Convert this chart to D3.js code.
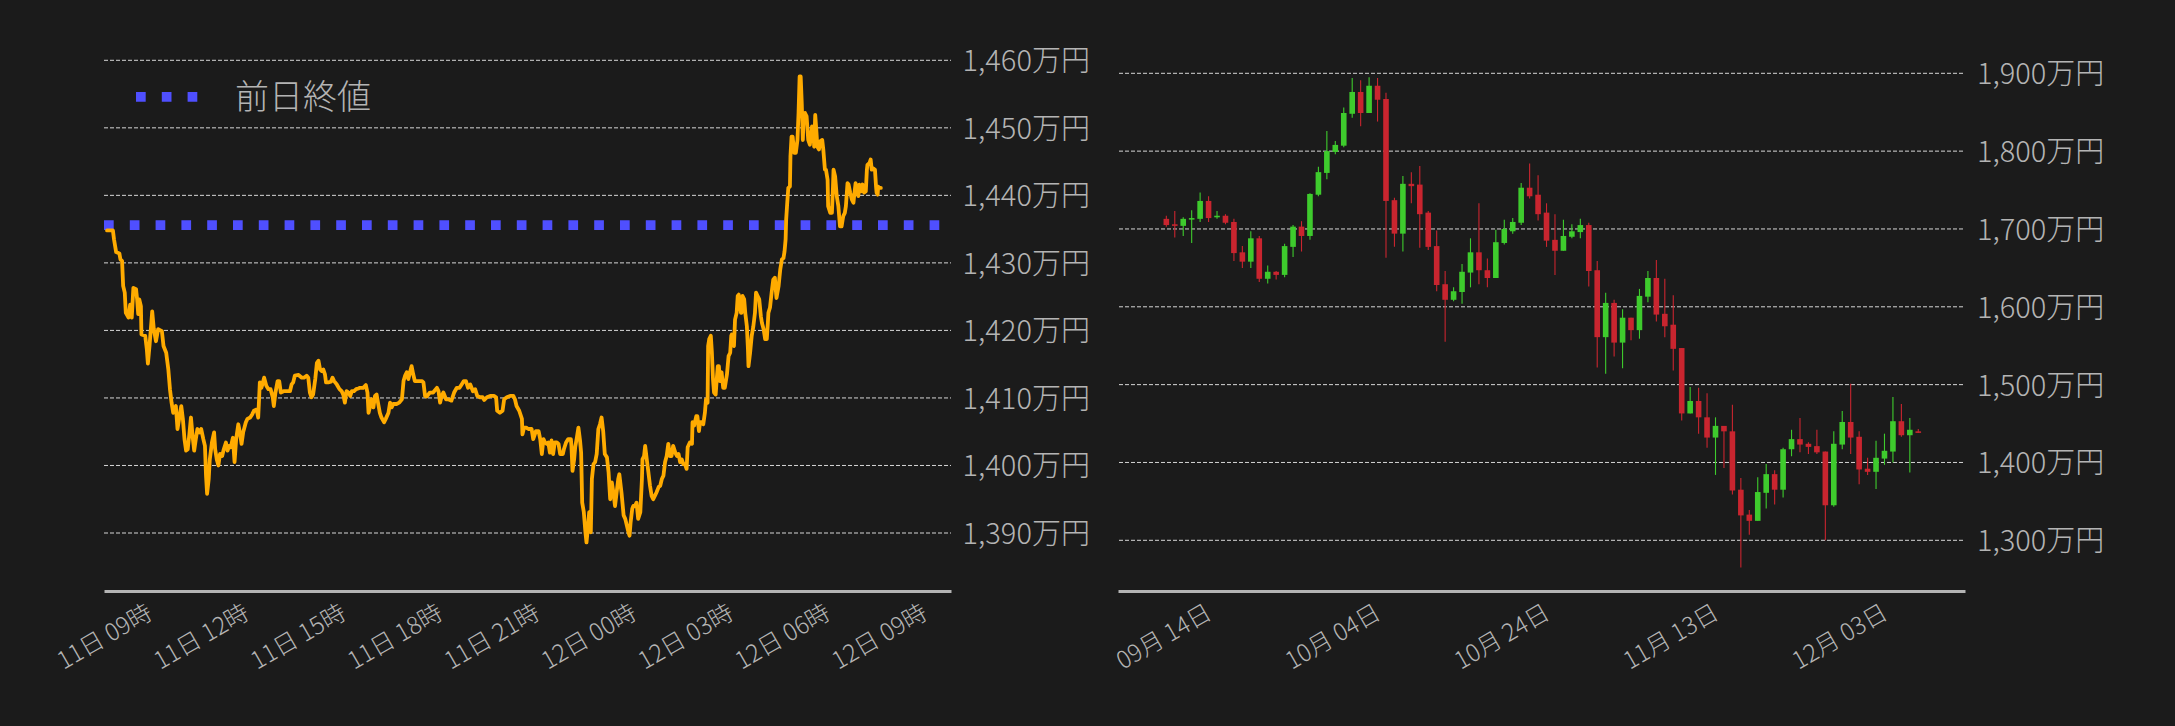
<!DOCTYPE html>
<html><head><meta charset="utf-8">
<script src="https://cdn.jsdelivr.net/npm/d3@7"></script>
<style>
html,body{margin:0;padding:0;background:#1b1b1b;}
svg{display:block;}
text{font-family:"Noto Sans CJK JP","Noto Sans",sans-serif;font-weight:300;}
</style>
</head><body>
<svg id="chart" width="2175" height="726"></svg>
<script>
// ---------- data: intraday (minutes since 2025-12-11 09:00, price in 万円) ----------
const prevClose = 1435.6;
const legendLabel = "前日終値";
const intraday = [
[0,1434.8],[11,1434.8],[13,1433.5],[17,1431.6],[23,1431.4],[25,1430.5],[28,1430.3],[30,1426.6],[33,1425.6],[35,1422.6],
[40,1421.9],[43,1423.8],[46,1421.9],[49,1426.3],[54,1426.1],[56,1424.6],[58,1422.4],[60,1424.6],[63,1423.6],[64,1419.4],
[71,1419.2],[74,1417.2],[76,1415.1],[79,1417.7],[81,1419.7],[84,1422.8],[87,1420.2],[91,1418.4],[95,1420.2],[102,1419.9],
[105,1417.7],[110,1416.7],[114,1414.2],[117,1411.3],[120,1409.3],[123,1407.8],[128,1408.8],[131,1405.4],[134,1406.9],[138,1408.8],
[141,1406.9],[144,1403.9],[147,1402.2],[150,1402.4],[153,1404.6],[156,1407.1],[159,1404.4],[162,1402.2],[165,1403.9],[168,1405.4],
[172,1404.9],[175,1405.4],[179,1403.9],[182,1402.9],[184,1398.5],[186,1395.8],[189,1398.0],[191,1400.9],[195,1403.4],[199,1404.9],
[201,1402.4],[204,1400.9],[207,1400.0],[210,1401.7],[214,1401.4],[217,1402.4],[221,1403.4],[224,1402.2],[227,1402.9],[230,1402.7],
[234,1404.1],[237,1400.5],[240,1403.9],[244,1406.1],[247,1404.9],[250,1403.2],[253,1404.9],[258,1406.4],[261,1406.9],[266,1407.1],
[270,1407.6],[273,1408.1],[278,1408.3],[281,1407.1],[284,1412.3],[287,1411.5],[292,1413.0],[296,1411.8],[300,1411.3],[304,1411.3],
[308,1410.1],[310,1408.8],[313,1410.8],[317,1412.5],[320,1412.5],[323,1410.8],[328,1411.0],[334,1411.0],[340,1411.0],[343,1412.0],
[346,1412.3],[349,1413.3],[356,1413.4],[362,1413.0],[366,1413.0],[371,1413.3],[374,1413.0],[377,1410.8],[380,1410.1],[383,1410.5],
[387,1412.8],[390,1415.2],[393,1415.5],[396,1414.2],[399,1414.0],[402,1414.2],[405,1413.5],[407,1412.3],[411,1412.3],[416,1412.4],
[419,1413.0],[422,1412.5],[427,1412.0],[432,1411.3],[436,1411.0],[439,1410.5],[442,1409.3],[445,1411.0],[449,1410.8],[452,1410.3],
[455,1411.0],[459,1411.0],[463,1411.3],[467,1411.4],
[470,1411.5],[476,1411.5],[481,1411.9],[484,1410.8],[486,1407.8],[489,1408.8],[492,1409.8],[495,1408.6],[498,1410.3],[501,1410.5],
[504,1409.1],[507,1407.8],[510,1407.1],[515,1406.4],[518,1406.9],[523,1407.8],[526,1409.3],[529,1408.6],[532,1409.1],[538,1409.1],
[543,1409.3],[548,1409.8],[551,1412.5],[554,1413.3],[557,1413.8],[560,1412.8],[563,1413.8],[566,1414.7],[569,1413.5],[572,1412.5],
[579,1412.5],[585,1412.5],[588,1412.3],[591,1410.3],[594,1410.2],[600,1410.8],[606,1410.8],[613,1411.5],[616,1411.0],[619,1409.3],
[622,1410.3],[625,1410.8],[630,1409.8],[634,1409.8],[640,1409.6],[645,1410.8],[650,1411.5],[655,1411.5],[659,1412.0],[663,1412.5],
[667,1412.5],[671,1411.5],[675,1412.0],[680,1411.0],[684,1411.3],[688,1410.3],[693,1410.1],[698,1410.1],[701,1409.7],[706,1410.1],
[712,1410.3],[719,1410.3],[723,1410.1],[725,1408.1],[730,1407.8],[735,1408.1],[738,1409.8],[743,1410.1],[749,1410.3],[755,1410.3],
[758,1409.8],[761,1408.8],[766,1408.1],[771,1406.9],[772,1404.6],[775,1405.6],[779,1405.6],[783,1405.4],[789,1405.4],[792,1403.9],
[797,1405.1],[802,1405.1],[805,1403.9],[808,1401.7],[811,1403.9],[814,1403.4],[817,1403.2],[820,1403.4],[823,1401.9],[826,1403.7],
[829,1401.7],[832,1403.4],[836,1403.4],[839,1403.2],[842,1401.7],[847,1401.7],[849,1402.4],[853,1403.4],[857,1403.9],[862,1403.9],
[863,1402.9],[865,1399.2],[868,1400.9],[870,1402.7],[873,1404.1],[876,1405.6],[879,1403.7],[881,1401.9],[883,1394.5],[886,1393.1],
[889,1390.1],[891,1388.6],[894,1391.1],[896,1393.1],[899,1390.1],[901,1398.0],[904,1400.2],[907,1400.5],[910,1401.7],[913,1405.4],
[916,1406.1],[919,1407.1],[922,1405.1],[925,1401.7],[929,1401.2],[932,1399.0],[935,1395.0],[938,1397.5],[941,1396.0],[944,1394.0],
[947,1396.0],[950,1398.0],[952,1398.7],
[956,1396.0],[960,1392.6],[963,1392.1],[966,1391.1],[969,1390.1],[971,1389.6],[973,1391.6],[976,1393.6],[978,1394.0],[981,1394.0],
[984,1394.5],[987,1392.1],[991,1393.1],[994,1398.0],[995,1400.9],[998,1401.4],[1000,1402.9],[1003,1400.9],[1006,1399.0],[1009,1397.0],
[1012,1395.5],[1015,1395.0],[1018,1395.5],[1021,1396.0],[1025,1396.8],[1028,1397.0],[1031,1398.0],[1034,1398.5],[1037,1400.5],[1040,1401.4],
[1043,1403.2],[1046,1401.4],[1049,1401.4],[1052,1402.9],[1056,1401.9],[1059,1401.4],[1062,1401.7],[1065,1400.5],[1068,1400.9],[1071,1400.2],
[1074,1400.2],[1077,1399.5],[1079,1402.7],[1083,1403.4],[1087,1403.2],[1088,1406.4],[1091,1405.9],[1095,1407.3],[1097,1407.3],[1100,1405.1],
[1102,1406.4],[1105,1406.4],[1108,1406.1],[1111,1407.8],[1113,1409.8],[1116,1409.3],[1117,1417.7],[1119,1418.7],[1122,1419.2],[1124,1416.7],
[1126,1412.8],[1128,1410.8],[1131,1410.5],[1133,1412.8],[1135,1414.7],[1137,1414.7],[1139,1412.5],[1142,1413.8],[1145,1411.5],[1148,1411.5],
[1152,1413.5],[1155,1416.2],[1158,1416.7],[1160,1419.2],[1161,1419.4],[1163,1417.9],[1165,1417.7],[1167,1421.6],[1170,1422.6],[1172,1425.1],
[1174,1425.3],[1178,1422.6],[1179,1422.6],[1181,1425.1],[1184,1424.6],[1186,1422.6],[1189,1420.6],[1191,1417.2],[1192,1414.7],[1195,1416.7],
[1198,1419.2],[1201,1420.6],[1204,1422.6],[1206,1425.6],[1209,1425.1],[1212,1424.6],[1215,1422.1],[1217,1421.1],[1220,1420.2],[1223,1418.7],
[1226,1418.7],[1228,1421.1],[1229,1422.6],[1232,1423.4],[1235,1425.6],[1238,1427.5],[1241,1427.8],[1244,1424.8],[1248,1426.6],[1251,1429.0],
[1254,1430.5],[1257,1430.7],[1259,1431.7],[1261,1433.5],[1262,1436.4],[1264,1438.9],[1266,1441.1],[1269,1441.3],[1270,1445.8],[1272,1448.7],
[1274,1448.7],[1277,1446.3],[1280,1446.3],[1283,1448.2],[1285,1452.2],[1287,1457.6],[1289,1457.6],[1291,1453.6],[1293,1448.2],[1294,1450.7],
[1297,1452.2],[1300,1451.7],[1303,1448.2],[1306,1447.5],[1310,1450.2],[1313,1449.2],[1314,1447.2],[1316,1451.9],[1318,1449.7],[1320,1447.2],
[1323,1446.8],[1325,1448.0],[1329,1448.2],[1331,1446.8],[1334,1443.8],[1336,1443.8],[1339,1442.3],[1340,1438.4],[1344,1437.4],[1347,1437.4],
[1349,1441.3],[1350,1443.8],[1353,1442.8],[1356,1439.9],[1359,1438.4],[1362,1435.4],[1365,1435.4],[1368,1436.9],[1371,1437.4],[1373,1438.4],
[1376,1441.8],[1378,1441.6],[1381,1440.4],[1384,1439.4],[1387,1438.9],[1389,1440.4],[1391,1441.8],[1393,1441.3],[1396,1439.9],[1398,1441.6],
[1401,1440.6],[1404,1441.6],[1407,1440.4],[1410,1440.6],[1412,1443.8],[1413,1444.5],[1417,1444.8],[1419,1445.3],[1421,1443.8],[1424,1444.0],
[1427,1443.8],[1429,1441.3],[1430,1440.4],[1432,1440.1],[1433,1441.3],[1435,1441.1],[1438,1441.1]
];
const intradayStart = "2025-12-11T09:00";
const leftTickTimes = ["2025-12-11T09:00","2025-12-11T12:00","2025-12-11T15:00","2025-12-11T18:00","2025-12-11T21:00",
                       "2025-12-12T00:00","2025-12-12T03:00","2025-12-12T06:00","2025-12-12T09:00"];
const leftYTicks = [1390,1400,1410,1420,1430,1440,1450,1460];

// ---------- data: daily candles (万円), 2025-09-14 .. 2025-12-12 ----------
const candleFirstDay = "2025-09-14";
const candleLastDay  = "2025-12-12";
const candleOpen = [1713,1706,1704,1712,1713,1736,1715,1717,1709,1670,1658,1688,1636,1645,1641,1677,1703,1691,1744,1772,
 1799,1807,1848,1876,1849,1884,1867,1737,1694,1758,1757,1721,1678,1629,1609,1619,1644,1670,1647,1637,
 1682,1697,1708,1753,1744,1721,1686,1672,1690,1696,1705,1647,1561,1605,1554,1586,1570,1613,1637,1591,
 1577,1547,1463,1479,1458,1432,1447,1440,1365,1333,1325,1361,1385,1365,1417,1430,1424,1421,1414,1345,
 1423,1452,1433,1392,1388,1405,1414,1453,1435,1440];
const candleHigh = [1717,1723,1715,1724,1747,1742,1723,1719,1713,1678,1697,1691,1653,1646,1681,1705,1710,1746,1780,1826,
 1813,1856,1894,1891,1895,1894,1875,1740,1768,1773,1781,1723,1698,1646,1625,1655,1688,1733,1662,1699,
 1712,1714,1759,1784,1769,1733,1719,1712,1706,1713,1708,1659,1618,1609,1597,1586,1623,1646,1660,1636,
 1615,1547,1497,1496,1489,1458,1447,1474,1380,1339,1381,1398,1390,1419,1442,1457,1426,1442,1414,1440,
 1466,1501,1440,1406,1428,1437,1484,1475,1457,1443];
const candleLow = [1703,1689,1691,1682,1709,1709,1713,1706,1659,1650,1650,1632,1630,1635,1638,1664,1671,1686,1742,1764,
 1796,1805,1843,1832,1849,1838,1663,1677,1671,1733,1676,1673,1620,1555,1607,1604,1625,1629,1625,1637,
 1680,1694,1705,1739,1711,1677,1641,1672,1688,1688,1626,1522,1514,1536,1521,1557,1559,1606,1581,1561,
 1518,1454,1463,1437,1419,1384,1393,1359,1265,1307,1325,1341,1346,1355,1408,1413,1411,1411,1300,1343,
 1417,1411,1372,1384,1366,1397,1400,1433,1387,1438];
const candleClose = [1705,1704,1713,1714,1736,1714,1717,1708,1669,1658,1688,1636,1645,1641,1678,1703,1691,1745,1773,1800,
 1808,1849,1876,1849,1884,1866,1736,1694,1758,1755,1719,1677,1628,1609,1620,1645,1670,1647,1637,1683,
 1700,1709,1753,1742,1719,1685,1672,1691,1697,1705,1646,1561,1605,1554,1586,1570,1614,1637,1590,1575,
 1546,1463,1479,1458,1432,1447,1440,1364,1332,1325,1362,1385,1365,1417,1430,1423,1420,1413,1345,1424,
 1452,1432,1391,1388,1406,1415,1453,1435,1442,1438];
const rightTickDays = ["2025-09-14","2025-10-04","2025-10-24","2025-11-13","2025-12-03"];
const rightYTicks = [1300,1400,1500,1600,1700,1800,1900];

// ---------- styling ----------
const BG = "#1b1b1b", GRID = "#d6d6d6", TXT = "#b4b4b4", AXIS = "#b4b4b4";
const ORANGE = "#ffab00", BLUE = "#4f4fff", UP = "#3ecb2d", DOWN = "#c9252f";
const FONT = '"Noto Sans CJK JP","Noto Sans",sans-serif';
const MIN = 60000, DAY = 864e5;

const svg = d3.select("#chart");
svg.append("rect").attr("width",2175).attr("height",726).attr("fill",BG);

const parseT = d3.timeParse("%Y-%m-%dT%H:%M");
const parseD = d3.timeParse("%Y-%m-%d");
const yen = v => d3.format(",")(v) + "万円";

// ================= LEFT: intraday line =================
const L = {x0:104, x1:951, yb:591};
const t0 = parseT(intradayStart);
const xL = d3.scaleTime()
  .domain([new Date(+t0 - 5.57*MIN), new Date(+t0 + 1568.3*MIN)])
  .range([L.x0, L.x1]);
const yL = d3.scaleLinear().domain([1390,1460]).range([533.0,60.3]);

const gl = svg.append("g");
gl.selectAll("line.grid").data(leftYTicks).join("line")
  .attr("x1",L.x0).attr("x2",L.x1)
  .attr("y1",d=>yL(d)).attr("y2",d=>yL(d))
  .attr("stroke",GRID).attr("stroke-width",1).attr("stroke-dasharray","4,2");

// previous close dotted line
gl.append("line")
  .attr("x1",L.x0).attr("x2",L.x1)
  .attr("y1",yL(prevClose)).attr("y2",yL(prevClose))
  .attr("stroke",BLUE).attr("stroke-width",9.7).attr("stroke-dasharray","9.7,16.1");

// price line
gl.append("path").datum(intraday)
  .attr("d", d3.line().x(d=>xL(new Date(+t0 + d[0]*MIN))).y(d=>yL(d[1])))
  .attr("fill","none").attr("stroke",ORANGE).attr("stroke-width",3.8)
  .attr("stroke-linejoin","round").attr("stroke-linecap","round");

// x axis
const axL = gl.append("g").attr("transform",`translate(0,${L.yb})`)
  .call(d3.axisBottom(xL).tickValues(leftTickTimes.map(parseT))
        .tickFormat(d3.timeFormat("%d日 %H時")).tickSize(0).tickSizeOuter(0));
axL.select(".domain").attr("stroke",AXIS).attr("stroke-width",3);
axL.selectAll("text").attr("fill",TXT).attr("font-size",24).attr("font-weight",300)
  .attr("font-family",FONT)
  .attr("text-anchor","middle").attr("y",0).attr("dy","0.35em")
  .attr("transform","translate(-3,45.5) rotate(-30)");

// y axis (right side)
const ayL = gl.append("g").attr("transform",`translate(${L.x1},0)`)
  .call(d3.axisRight(yL).tickValues(leftYTicks).tickFormat(yen).tickSize(0).tickPadding(11.6));
ayL.select(".domain").remove();
ayL.selectAll("text").attr("fill",TXT).attr("font-size",29).attr("font-weight",300).attr("dy","0.36em")
  .attr("font-family",FONT);

// legend
gl.append("line").attr("x1",136).attr("x2",197.5).attr("y1",96.8).attr("y2",96.8)
  .attr("stroke",BLUE).attr("stroke-width",9.7).attr("stroke-dasharray","9.7,16.1");
gl.append("text").attr("x",235).attr("y",97).attr("dy","0.36em")
  .attr("fill",TXT).attr("font-size",34).attr("font-weight",300).attr("font-family",FONT)
  .text(legendLabel);

// ================= RIGHT: daily candles =================
const R = {x0:1118, x1:1965, yb:591};
const d0 = parseD(candleFirstDay);
const days = d3.timeDay.range(d0, d3.timeDay.offset(parseD(candleLastDay),1));
const candles = days.map((d,i)=>({date:d, o:candleOpen[i], h:candleHigh[i], l:candleLow[i], c:candleClose[i]}));
const xR = d3.scaleTime()
  .domain([new Date(+d0 - 5.72*DAY), new Date(+d0 + 94.53*DAY)])
  .range([R.x0, R.x1]);
const yR = d3.scaleLinear().domain([1300,1900]).range([540.3,73.3]);

const gr = svg.append("g");
gr.selectAll("line.grid").data(rightYTicks).join("line")
  .attr("x1",R.x0+1).attr("x2",R.x1-1)
  .attr("y1",d=>yR(d)).attr("y2",d=>yR(d))
  .attr("stroke",GRID).attr("stroke-width",1).attr("stroke-dasharray","4,2");

const bw = 5.6;
const cg = gr.selectAll("g.candle").data(candles).join("g");
cg.append("line")
  .attr("x1",d=>xR(d.date)).attr("x2",d=>xR(d.date))
  .attr("y1",d=>yR(d.h)).attr("y2",d=>yR(d.l))
  .attr("stroke",d=>d.c>=d.o?UP:DOWN).attr("stroke-width",1.1);
cg.append("rect")
  .attr("x",d=>xR(d.date)-bw/2).attr("width",bw)
  .attr("y",d=>yR(Math.max(d.o,d.c)))
  .attr("height",d=>Math.max(1.5, Math.abs(yR(d.o)-yR(d.c))))
  .attr("fill",d=>d.c>=d.o?UP:DOWN);

const axR = gr.append("g").attr("transform",`translate(0,${R.yb})`)
  .call(d3.axisBottom(xR).tickValues(rightTickDays.map(parseD))
        .tickFormat(d3.timeFormat("%m月 %d日")).tickSize(0).tickSizeOuter(0));
axR.select(".domain").attr("stroke",AXIS).attr("stroke-width",3);
axR.selectAll("text").attr("fill",TXT).attr("font-size",24).attr("font-weight",300)
  .attr("font-family",FONT)
  .attr("text-anchor","middle").attr("y",0).attr("dy","0.35em")
  .attr("transform","translate(-3,45.5) rotate(-30)");

const ayR = gr.append("g").attr("transform",`translate(${R.x1},0)`)
  .call(d3.axisRight(yR).tickValues(rightYTicks).tickFormat(yen).tickSize(0).tickPadding(12))
ayR.select(".domain").remove();
ayR.selectAll("text").attr("fill",TXT).attr("font-size",29).attr("font-weight",300).attr("dy","0.36em")
  .attr("font-family",FONT);
</script>
</body></html>
